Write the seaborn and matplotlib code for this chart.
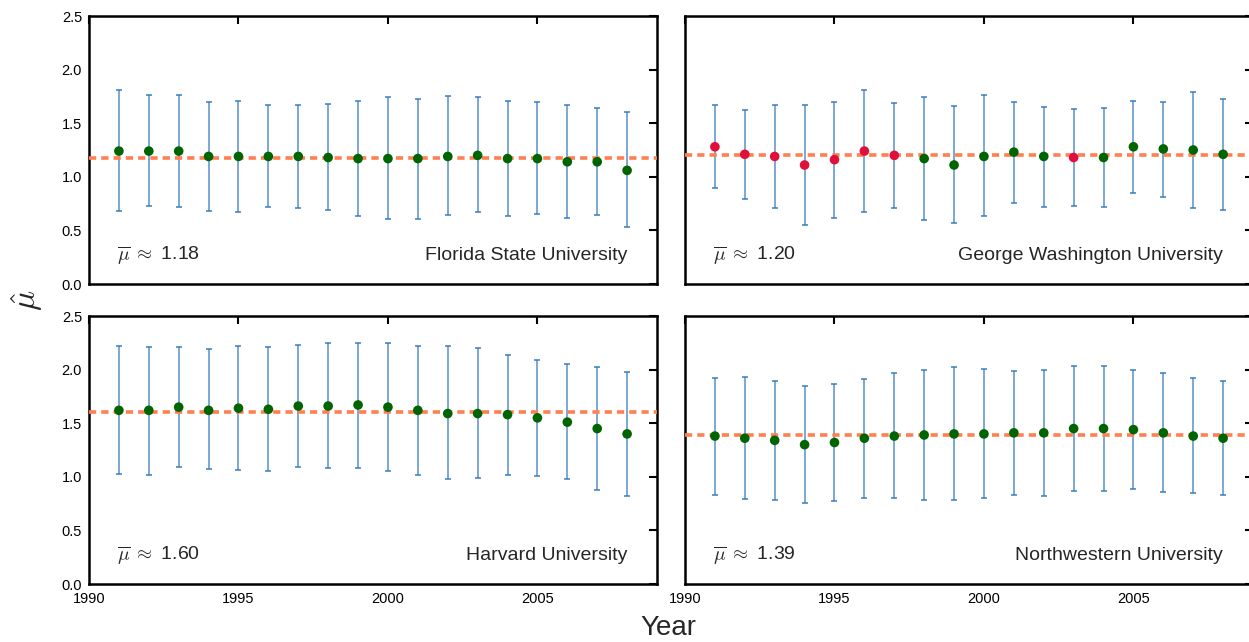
import numpy as np
import pandas as pd
import matplotlib
matplotlib.use("Agg")
import matplotlib.pyplot as plt
import seaborn as sns

sns.set_style("white")
plt.rcParams["font.family"] = ["Liberation Sans", "DejaVu Sans"]
plt.rcParams["mathtext.fontset"] = "cm"

# ── DATA ─────────────────────────────────────────────────────────────────────
years = list(range(1991, 2009))

fsu_mu = [1.24, 1.24, 1.24, 1.19, 1.19, 1.19, 1.19, 1.18, 1.17, 1.17,
          1.17, 1.19, 1.20, 1.17, 1.17, 1.14, 1.14, 1.06]
fsu_hi = [1.81, 1.76, 1.76, 1.70, 1.71, 1.67, 1.67, 1.68, 1.71, 1.74,
          1.73, 1.75, 1.74, 1.71, 1.70, 1.67, 1.64, 1.60]
fsu_lo = [0.68, 0.73, 0.72, 0.68, 0.67, 0.72, 0.71, 0.69, 0.63, 0.61,
          0.61, 0.64, 0.67, 0.63, 0.65, 0.62, 0.64, 0.53]
fsu_flag = [0] * 18

gwu_mu = [1.28, 1.21, 1.19, 1.11, 1.16, 1.24, 1.20, 1.17, 1.11, 1.19,
          1.23, 1.19, 1.18, 1.18, 1.28, 1.26, 1.25, 1.21]
gwu_hi = [1.67, 1.62, 1.67, 1.67, 1.70, 1.81, 1.69, 1.74, 1.66, 1.76,
          1.70, 1.65, 1.63, 1.64, 1.71, 1.70, 1.79, 1.73]
gwu_lo = [0.90, 0.79, 0.71, 0.55, 0.62, 0.67, 0.71, 0.60, 0.57, 0.63,
          0.76, 0.72, 0.73, 0.72, 0.85, 0.81, 0.71, 0.69]
gwu_flag = [1, 1, 1, 1, 1, 1, 1, 0, 0, 0, 0, 0, 1, 0, 0, 0, 0, 0]

harv_mu = [1.62, 1.62, 1.65, 1.62, 1.64, 1.63, 1.66, 1.66, 1.67, 1.65,
           1.62, 1.59, 1.59, 1.58, 1.55, 1.51, 1.45, 1.40]
harv_hi = [2.22, 2.21, 2.21, 2.19, 2.22, 2.21, 2.23, 2.25, 2.25, 2.25,
           2.22, 2.22, 2.20, 2.14, 2.09, 2.05, 2.02, 1.98]
harv_lo = [1.03, 1.02, 1.09, 1.07, 1.06, 1.05, 1.09, 1.08, 1.08, 1.05,
           1.02, 0.98, 0.99, 1.02, 1.01, 0.98, 0.88, 0.82]
harv_flag = [0] * 18

nw_mu = [1.38, 1.36, 1.34, 1.30, 1.32, 1.36, 1.38, 1.39, 1.40, 1.40,
         1.41, 1.41, 1.45, 1.45, 1.44, 1.41, 1.38, 1.36]
nw_hi = [1.92, 1.93, 1.89, 1.85, 1.87, 1.91, 1.97, 2.00, 2.02, 2.01,
         1.99, 2.00, 2.03, 2.03, 2.00, 1.97, 1.92, 1.89]
nw_lo = [0.83, 0.79, 0.78, 0.76, 0.77, 0.80, 0.80, 0.78, 0.78, 0.80,
         0.83, 0.82, 0.87, 0.87, 0.89, 0.86, 0.85, 0.83]
nw_flag = [0] * 18

names = ["Florida State University", "George Washington University",
         "Harvard University", "Northwestern University"]
means = [1.18, 1.20, 1.60, 1.39]
panels = [(fsu_mu, fsu_lo, fsu_hi, fsu_flag),
          (gwu_mu, gwu_lo, gwu_hi, gwu_flag),
          (harv_mu, harv_lo, harv_hi, harv_flag),
          (nw_mu, nw_lo, nw_hi, nw_flag)]

# ── FIGURE ───────────────────────────────────────────────────────────────────
W, H = 1249, 642
fig = plt.figure(figsize=(W / 100, H / 100), dpi=100)

aw = 568 / W
ah = 268 / H
boxes = [(89 / W, 1 - 284 / H), (685 / W, 1 - 284 / H),
         (89 / W, 1 - 584 / H), (685 / W, 1 - 584 / H)]

palette = {0: "#006400", 1: "#e0103a"}

for i, ((x0, y0), name, mbar, (mu, lo, hi, flag)) in enumerate(zip(boxes, names, means, panels)):
    ax = fig.add_axes([x0, y0, aw, ah])
    df = pd.DataFrame({"year": years, "mu": mu, "lo": lo, "hi": hi, "flag": flag})

    ax.errorbar(df["year"], df["mu"],
                yerr=[df["mu"] - df["lo"], df["hi"] - df["mu"]],
                fmt="none", ecolor="#2f76bd", elinewidth=1.1, alpha=0.8,
                capsize=2.5, capthick=1.3, zorder=2)
    ax.axhline(mbar, color="#ff7f50", lw=2.6, dashes=(2.0, 1.4), zorder=3)
    sns.scatterplot(data=df, x="year", y="mu", hue="flag", palette=palette,
                    s=48, edgecolor="none", legend=False, ax=ax, zorder=4)

    ax.set_xlim(1990, 2009)
    ax.set_ylim(0, 2.5)
    ax.set_xticks([1990, 1995, 2000, 2005])
    ax.set_yticks([0.0, 0.5, 1.0, 1.5, 2.0, 2.5])
    ax.yaxis.set_major_formatter(matplotlib.ticker.FormatStrFormatter("%.1f"))
    ax.tick_params(direction="in", length=6, width=1.5, top=True, right=True,
                   labelsize=10.5, colors="black")
    ax.tick_params(axis="x", pad=6)
    ax.tick_params(axis="y", pad=5)
    if i < 2:
        ax.tick_params(labelbottom=False)
    if i % 2 == 1:
        ax.tick_params(labelleft=False)
    for sp in ax.spines.values():
        sp.set_linewidth(1.8)
        sp.set_color("black")
    ax.set_xlabel("")
    ax.set_ylabel("")

    ax.text(0.05, 0.105, r"$\overline{\mu}\;\approx$" + f" {mbar:.2f}",
            transform=ax.transAxes, fontsize=14, ha="left", va="center")
    ax.text(0.947, 0.105, name, transform=ax.transAxes, fontsize=14,
            ha="right", va="center")

fig.text(668 / W, 1 - 628 / H, "Year", fontsize=20, ha="center", va="center")
fig.text(27 / W, 1 - 300 / H, r"$\hat{\mu}$", fontsize=24, rotation=90,
         ha="center", va="center")

fig.savefig("out.png", dpi=100)
